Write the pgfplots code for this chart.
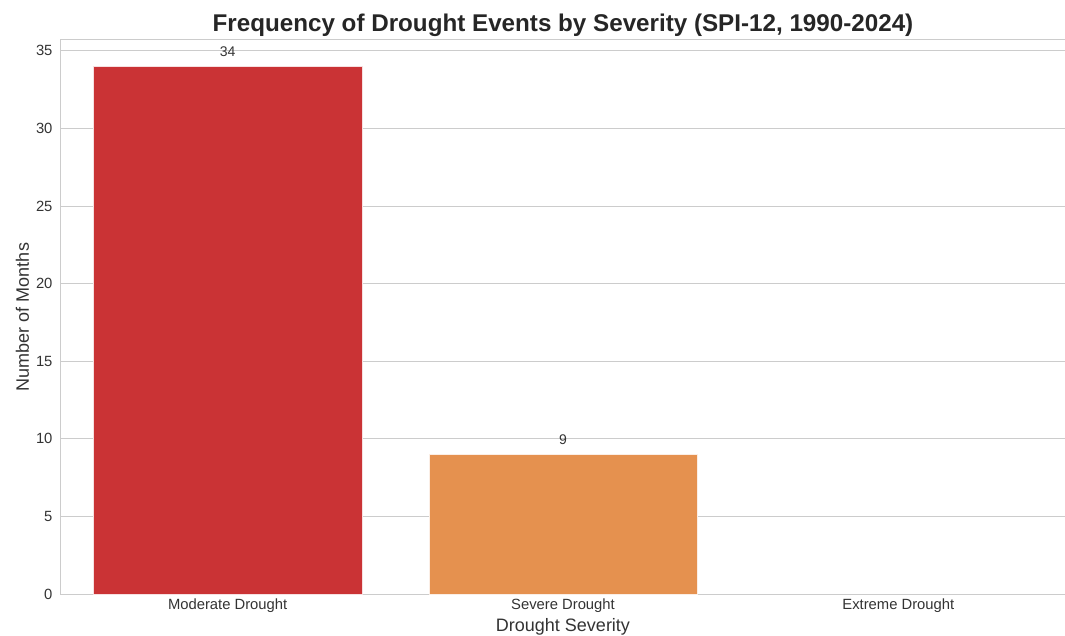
\documentclass[border=0pt]{standalone}
\usepackage{pgfplots}
\pgfplotsset{compat=1.18}
\usepackage{fontspec}
\setmainfont{Liberation Sans}
\definecolor{modc}{HTML}{CA3335}
\definecolor{sevc}{HTML}{E5914F}
\definecolor{gridc}{HTML}{CCCCCC}
\definecolor{txtc}{HTML}{333333}
\begin{document}
\begin{tikzpicture}[x=1pt,y=1pt]
\path[use as bounding box] (0,0) rectangle (1065,635);
\begin{axis}[
  at={(60pt,41pt)}, anchor=south west,
  scale only axis, width=1006pt, height=554pt,
  xmin=-0.5, xmax=2.5, ymin=0, ymax=35.7,
  xtick={0,1,2}, xticklabels={Moderate Drought,Severe Drought,Extreme Drought},
  ytick={0,5,10,15,20,25,30,35},
  /pgf/number format/assume math mode=true,
  tick label style={font=\fontsize{14.8}{17}\selectfont, text=txtc},
  xticklabel style={yshift=-1pt},
  yticklabel style={xshift=-4pt},
  major tick length=0pt,
  ymajorgrids, grid style={gridc, line width=1pt},
  axis line style={gridc, line width=1pt},
  axis on top=false,
  xlabel={Drought Severity}, ylabel={Number of Months},
  label style={font=\fontsize{18}{21}\selectfont, text=txtc},
  xlabel style={yshift=1pt},
  ylabel style={yshift=0pt},
  title={Frequency of Drought Events by Severity (SPI-12, 1990-2024)},
  title style={font=\bfseries\fontsize{24.2}{28}\selectfont, text=black!85, yshift=-6pt},
  ybar, bar width=0.8, bar shift=0pt,
  nodes near coords style={font=\fontsize{14}{16}\selectfont, text=txtc, yshift=6pt},
]
\addplot[fill=modc, draw=white!85!modc, line width=0.5pt, nodes near coords] coordinates {(0,34)};
\addplot[fill=sevc, draw=white!85!sevc, line width=0.5pt, nodes near coords] coordinates {(1,9)};
\addplot[fill=none, draw=none] coordinates {(2,0)};
\end{axis}
\end{tikzpicture}
\end{document}
